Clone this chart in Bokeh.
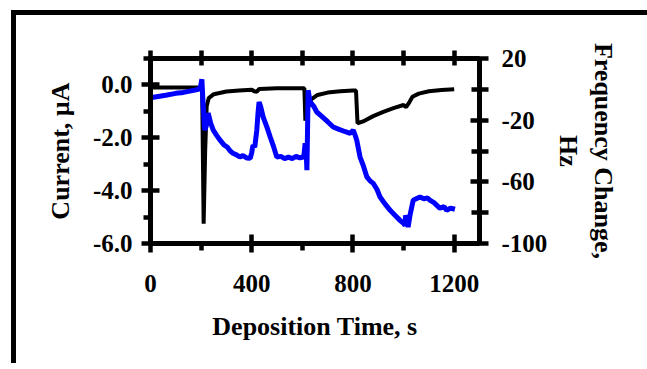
from bokeh.plotting import figure
from bokeh.models import (Range1d, LinearAxis, FixedTicker, InlineStyleSheet)
from bokeh.embed import file_html
from bokeh.resources import INLINE

# ---- data ----
# Current (left axis, black)
cur_t = [0, 50, 100, 150, 200, 204, 210, 216, 222, 230, 250, 300, 350, 400, 410, 420,
         430, 500, 600, 608, 612, 620, 635, 660, 700, 750, 800, 812, 818, 840, 880,
         920, 960, 1000, 1010, 1020, 1035, 1060, 1100, 1150, 1200]
cur_v = [-0.10, -0.10, -0.10, -0.10, -0.10, -0.10, -5.25, -2.5, -0.8, -0.5, -0.35, -0.25,
         -0.21, -0.18, -0.24, -0.26, -0.15, -0.13, -0.13, -0.13, -1.35, -0.9, -0.55,
         -0.38, -0.29, -0.24, -0.21, -0.21, -1.45, -1.38, -1.18, -1.02, -0.88, -0.76,
         -0.84, -0.70, -0.45, -0.33, -0.24, -0.19, -0.16]

# Frequency change (right axis, blue)
frq_t = [0, 30, 60, 100, 130, 160, 190, 198, 203, 208, 214, 220, 228, 238, 248, 262,
         275, 290, 303, 315, 326, 340, 353, 365, 380, 394, 400, 405, 412, 420, 425,
         429, 435, 445, 460, 473, 486, 499, 515, 530, 545, 560, 575, 590, 603, 607,
         611, 615, 618, 623, 630, 645, 657, 680, 700, 722, 745, 770, 789, 801, 808,
         815, 828, 842, 855, 868, 880, 895, 907, 925, 947, 965, 986, 1000, 1006,
         1008, 1012, 1018, 1025, 1038, 1050, 1065, 1080, 1095, 1105, 1120, 1144,
         1160, 1170, 1185, 1203]
frq_v = [-5.5, -4.6, -3.8, -2.6, -2.0, -1.0, 0.0, 2.0, 6.5, -10.0, -26.5, -24.0, -15.5,
         -22.0, -26.5, -30.0, -33.0, -36.0, -37.4, -40.0, -41.5, -42.5, -43.9, -43.0,
         -44.5, -44.7, -41.0, -36.3, -37.5, -26.5, -15.0, -8.2, -11.0, -17.9, -24.5,
         -30.9, -37.0, -43.9, -43.5, -44.9, -44.0, -44.9, -43.5, -44.5, -43.9, -42.0,
         -35.0, -40.0, -52.5, -0.6, -8.0, -11.0, -14.7, -18.0, -21.0, -24.4, -26.0,
         -27.5, -28.5, -26.5, -29.5, -33.0, -43.9, -50.0, -56.8, -59.5, -60.9, -65.0,
         -69.8, -74.0, -78.5, -81.5, -85.0, -87.0, -88.2, -81.7, -84.0, -89.3, -82.0,
         -72.0, -71.0, -69.8, -71.0, -70.5, -72.0, -73.5, -77.2, -76.0, -78.5, -77.0,
         -77.8]

x_ticks = [0, 400, 800, 1200]
x_minor = [200, 600, 1000]
x_all = [0, 200, 400, 600, 800, 1000, 1200]
cur_ticks = [0, -2, -4, -6]
cur_minor = [1, -1, -3, -5]
cur_labels = {0: "0.0", -2: "-2.0", -4: "-4.0", -6: "-6.0"}
frq_ticks = [20, -20, -60, -100]
frq_minor = [0, -40, -80]
frq_labels = {20: "20", -20: "-20", -60: "-60", -100: "-100"}

FONT = "Liberation Serif"

p = figure(width=647, height=363, output_backend="svg", toolbar_location=None,
           x_range=Range1d(0, 1300), y_range=Range1d(-6, 1),
           min_border_left=150, min_border_right=168, min_border_top=58,
           min_border_bottom=120)
p.grid.visible = False
p.outline_line_color = None
# transparent fills so that the host's background (with the picture frame) shows
p.background_fill_color = None
p.border_fill_color = None

p.extra_y_ranges = {"frq": Range1d(-100, 20)}


def style(ax, ticks, minor, labels=None):
    ax.ticker = FixedTicker(ticks=ticks, minor_ticks=minor)
    ax.axis_line_width = 5
    ax.axis_line_color = "black"
    ax.major_tick_line_width = 4.5
    ax.minor_tick_line_width = 4.5
    ax.major_tick_in = 9
    ax.major_tick_out = 9
    ax.minor_tick_in = 2
    ax.minor_tick_out = 7
    ax.major_label_text_font = FONT
    ax.major_label_text_font_style = "bold"
    ax.major_label_text_font_size = "25px"
    ax.major_label_text_color = "black"
    ax.axis_label_text_font = FONT
    ax.axis_label_text_font_style = "bold"
    ax.axis_label_text_font_size = "26px"
    ax.axis_label_text_color = "black"
    if labels:
        ax.major_label_overrides = labels


# bottom
style(p.xaxis[0], x_ticks, x_minor)
p.xaxis[0].axis_label = "Deposition Time, s"
p.xaxis[0].major_label_standoff = 22
p.xaxis[0].axis_label_standoff = 17

# left
style(p.yaxis[0], cur_ticks, cur_minor, cur_labels)
p.yaxis[0].axis_label = "Current, µA"
p.yaxis[0].major_label_standoff = 9
p.yaxis[0].axis_label_standoff = 15

# top (ticks only, no labels)
top = LinearAxis()
style(top, [], x_all)
top.minor_tick_in = 7
top.minor_tick_out = 8
p.add_layout(top, "above")

# right
right = LinearAxis(y_range_name="frq")
style(right, frq_ticks, frq_minor, frq_labels)
right.minor_tick_in = 8
right.minor_tick_out = 9
right.axis_label = "Frequency Change,\nHz"
right.major_label_standoff = 13
right.axis_label_standoff = 4
p.add_layout(right, "right")

p.line(cur_t, cur_v, line_color="black", line_width=4)
p.line(frq_t, frq_v, y_range_name="frq", line_color="#0000ff", line_width=5)

# outer picture frame: only its top and left edges lie inside the window
p.stylesheets = [InlineStyleSheet(css="""
:host {
  background:
    linear-gradient(#000, #000) 11px 10px / 5px 353px no-repeat,
    linear-gradient(#000, #000) 11px 10px / 636px 5px no-repeat,
    #ffffff;
}
""")]

open("out.html", "w").write(file_html(p, INLINE))
